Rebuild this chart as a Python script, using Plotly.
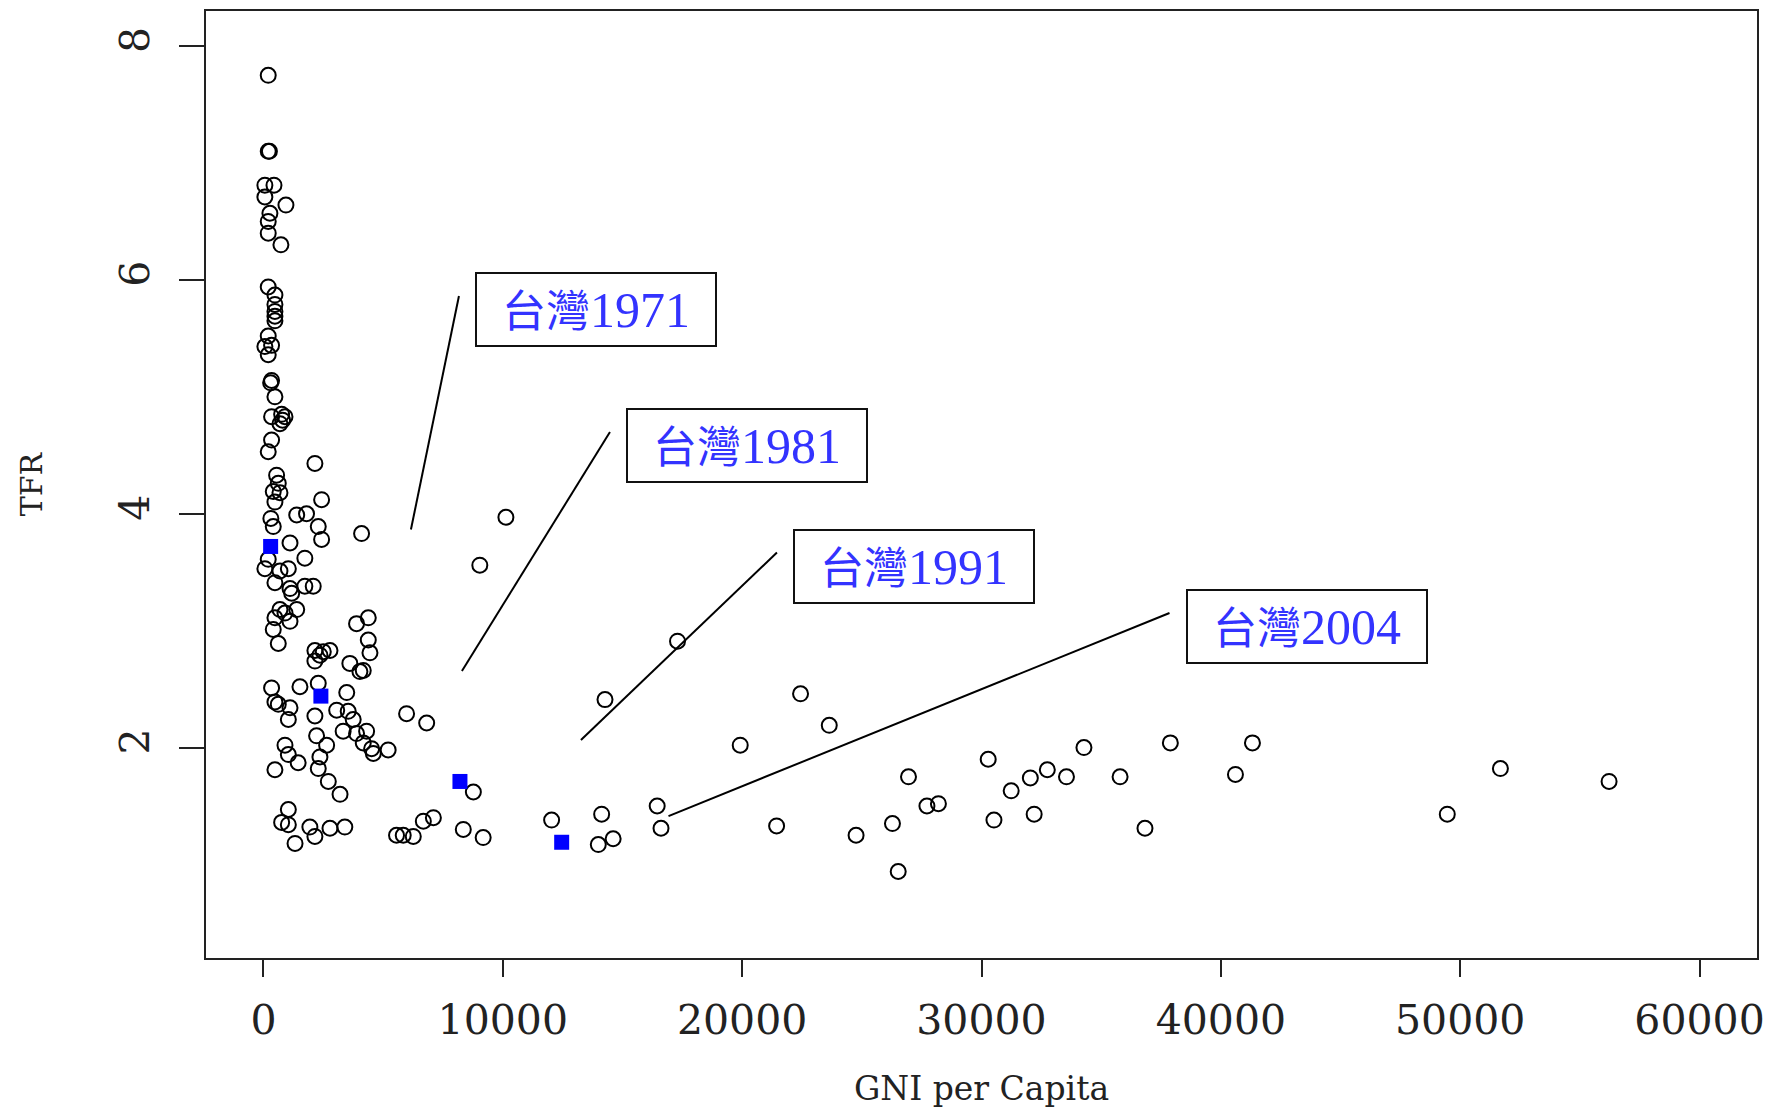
import plotly.graph_objects as go

# ---------------- data ----------------
gni = [200, 200, 250, 60, 440, 60, 940, 270, 200, 200, 730, 200, 480, 480, 480, 480, 480,
       200, 60, 340, 200, 340, 300, 480, 340, 760, 900, 690, 800, 340, 200, 2150, 550, 620,
       410, 690, 480, 2430, 310, 410, 1390, 1800, 2290, 4100, 2430, 1110, 1730, 200, 60, 690,
       1040, 480, 1110, 1730, 2080, 1180, 690, 1390, 480, 1110, 900, 410, 620, 3890, 4380,
       4380, 4450, 2150, 2500, 2780, 2150, 2360, 3610, 4170, 4030, 340, 1525, 2290, 3480,
       480, 620, 1110, 3060, 3540, 1040, 2150, 5980, 6820, 3750, 3330, 3890, 4310, 4170,
       4520, 5210, 4590, 2220, 2640, 900, 1040, 1450, 2360, 2290, 480, 2710, 3200, 8770,
       1040, 760, 1040, 1940, 2780, 3400, 2150, 1320, 5560, 5840, 6260, 6680, 7100, 8350,
       9180, 12040, 14130, 13990, 14610, 14270, 10130, 9040, 17300, 22440, 23640, 19920,
       30280, 34280, 26950, 32040, 32750, 33550, 35790, 31240, 27720, 28200, 30520, 32200,
       26280, 24760, 21440, 26520, 36830, 16450, 16610, 37890, 41320, 40610, 51680, 56220,
       49460]
tfr = [7.75, 7.10, 7.10, 6.81, 6.81, 6.71, 6.64, 6.57, 6.50, 6.40, 6.30, 5.94, 5.87, 5.79,
       5.73, 5.69, 5.65, 5.52, 5.43, 5.44, 5.36, 5.14, 5.12, 5.00, 4.83, 4.85, 4.83, 4.77,
       4.80, 4.63, 4.53, 4.43, 4.33, 4.26, 4.19, 4.18, 4.10, 4.12, 3.96, 3.89, 3.99, 4.00,
       3.89, 3.83, 3.78, 3.75, 3.62, 3.61, 3.53, 3.51, 3.53, 3.41, 3.36, 3.38, 3.38, 3.32,
       3.18, 3.18, 3.11, 3.08, 3.15, 3.01, 2.89, 3.06, 3.11, 2.92, 2.81, 2.83, 2.82, 2.83,
       2.74, 2.79, 2.72, 2.66, 2.65, 2.51, 2.52, 2.55, 2.47, 2.39, 2.37, 2.34, 2.32, 2.31,
       2.24, 2.27, 2.29, 2.21, 2.24, 2.14, 2.12, 2.14, 2.04, 1.99, 1.98, 1.95, 2.10, 2.02,
       2.02, 1.94, 1.87, 1.92, 1.82, 1.81, 1.71, 1.60, 1.62, 1.47, 1.36, 1.34, 1.32, 1.31,
       1.32, 1.24, 1.18, 1.25, 1.25, 1.24, 1.37, 1.40, 1.30, 1.23, 1.38, 1.43, 1.17, 1.22,
       2.41, 3.97, 3.56, 2.91, 2.46, 2.19, 2.02, 1.90, 2.00, 1.75, 1.74, 1.81, 1.75, 1.75,
       1.63, 1.50, 1.52, 1.38, 1.43, 1.35, 1.25, 1.33, 0.94, 1.31, 1.50, 1.31, 2.04, 2.04,
       1.77, 1.82, 1.71, 1.43]

taiwan_years = ["1971", "1981", "1991", "2004"]
taiwan_gni = [300, 2400, 8210, 12460]
taiwan_tfr = [3.72, 2.44, 1.71, 1.19]

x_ticks = [0, 10000, 20000, 30000, 40000, 50000, 60000]
y_ticks = [2, 4, 6, 8]

# label boxes (centre, data coords) and leader lines (data coords)
label_pos = [(13890, 5.75), (20220, 4.58), (27160, 3.55), (43580, 3.035)]
leaders = [((8168, 5.862), (6162, 3.865)),
           ((14477, 4.699), (8293, 2.655)),
           ((21454, 3.668), (13265, 2.065)),
           ((37855, 3.151), (16923, 1.414))]

# ---------------- figure ----------------
fig = go.Figure()
fig.add_trace(go.Scatter(
    x=gni, y=tfr, mode="markers", showlegend=False,
    marker=dict(symbol="circle-open", size=15, color="black", line=dict(width=2, color="black"))))
fig.add_trace(go.Scatter(
    x=taiwan_gni, y=taiwan_tfr, mode="markers", showlegend=False,
    marker=dict(symbol="square", size=15, color="#0000FF", line=dict(width=0))))

for (x0, y0), (x1, y1) in leaders:
    fig.add_shape(type="line", xref="x", yref="y", x0=x0, y0=y0, x1=x1, y1=y1,
                  line=dict(color="black", width=2))

for yr, (lx, ly) in zip(taiwan_years, label_pos):
    fig.add_annotation(
        x=lx, y=ly, xref="x", yref="y", showarrow=False,
        text="<span style='font-size:44px'>台灣</span>" + yr,
        xanchor="center", yanchor="middle",
        width=236, height=69, borderpad=1, borderwidth=2, bordercolor="#111",
        bgcolor="white", align="center", valign="middle",
        font=dict(family="Liberation Serif, Noto Sans CJK TC, serif", size=50, color="#3333FF"))

axis_font = dict(family="DejaVu Serif, serif", size=41, color="#222")
fig.update_layout(
    width=1768, height=1108,
    margin=dict(l=206, r=11, t=11, b=150),
    paper_bgcolor="white", plot_bgcolor="white",
    xaxis=dict(range=[-2400, 62400], tickvals=x_ticks, ticktext=[str(v) for v in x_ticks],
               ticks="outside", ticklen=17, tickwidth=2, tickcolor="#222",
               showline=True, mirror=True, linewidth=2, linecolor="#222",
               showgrid=False, zeroline=False, tickfont=axis_font, ticklabelstandoff=8,
               ticklabeloverflow="allow", automargin=False,
               title=dict(text="GNI per Capita", font=dict(family="DejaVu Serif, serif", size=33, color="#222"),
                          standoff=40)),
    yaxis=dict(range=[0.2, 8.3], tickvals=y_ticks, ticktext=[str(v) for v in y_ticks],
               ticks="outside", ticklen=25, tickwidth=2, tickcolor="#222",
               showline=True, mirror=True, linewidth=2, linecolor="#222",
               showgrid=False, zeroline=False, tickfont=axis_font, tickangle=-90,
               ticklabelstandoff=14, automargin=False,
               title=dict(text="TFR", font=dict(family="DejaVu Serif, serif", size=30, color="#222"),
                          standoff=59)),
)

fig.write_html("out.html", config={"displayModeBar": False},
               post_script="document.body.style.margin='0';document.body.style.overflow='hidden';")
